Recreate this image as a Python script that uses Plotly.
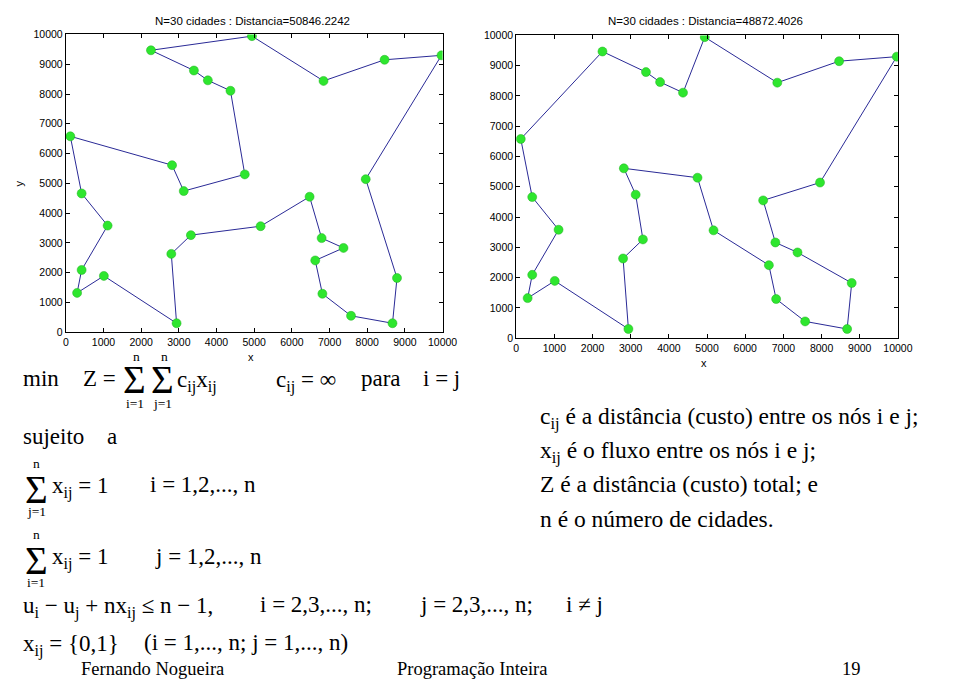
import plotly.graph_objects as go

# ---- data ----
city_x = [4940, 2260, 3400, 3770, 4370, 4750, 3130, 2820, 120, 420,
          1110, 420, 300, 1010, 2940, 2800, 3320, 5170, 6470, 6790,
          7370, 6620, 6810, 7570, 8670, 8790, 7960, 9970, 8460, 6840]
city_y = [9945, 9470, 8790, 8460, 8110, 5300, 4740, 5610, 6580, 4660,
          3580, 2090, 1320, 1890, 300, 2630, 3260, 3560, 4550, 3160,
          2830, 2410, 1290, 550, 300, 1820, 5140, 9300, 9150, 8440]
tour_left = [1, 30, 29, 28, 27, 26, 25, 24, 23, 22, 21, 20, 19, 18, 17, 16,
             15, 14, 13, 12, 11, 10, 9, 8, 7, 6, 5, 4, 3, 2, 1]
tour_right = [1, 30, 29, 28, 27, 19, 20, 21, 26, 25, 24, 23, 22, 18, 6, 8,
              7, 17, 16, 15, 14, 13, 12, 11, 10, 9, 2, 3, 4, 5, 1]
title_left = "N=30 cidades : Distancia=50846.2242"
title_right = "N=30 cidades : Distancia=48872.4026"
tick_vals = [0, 1000, 2000, 3000, 4000, 5000, 6000, 7000, 8000, 9000, 10000]
tick_text = [str(v) for v in tick_vals]

W, H = 960, 684
LINE = "#2a2a96"
GREEN = "#2ee62e"
PF = "Arial, Liberation Sans, sans-serif"
SF = "Times New Roman, Liberation Serif, serif"

fig = go.Figure()
for tour, xa, ya in [(tour_left, "x", "y"), (tour_right, "x2", "y2")]:
    xs = [city_x[i - 1] for i in tour]
    ys = [city_y[i - 1] for i in tour]
    fig.add_trace(go.Scatter(x=xs, y=ys, mode="lines", xaxis=xa, yaxis=ya,
                             line=dict(color=LINE, width=1), hoverinfo="skip"))
    fig.add_trace(go.Scatter(x=city_x, y=city_y, mode="markers", xaxis=xa, yaxis=ya,
                             marker=dict(color=GREEN, size=9,
                                         line=dict(color="#22b022", width=0.5))))

ax = dict(range=[0, 10000], tickvals=tick_vals, ticktext=tick_text, ticks="inside",
          ticklen=4, tickcolor="black", showline=True, linecolor="black", linewidth=1,
          mirror="ticks", showgrid=False, zeroline=False,
          tickfont=dict(family=PF, size=10.5, color="black"))

def px(x0, x1):
    return [x0 / W, x1 / W]

def py(top, bottom):
    return [1 - bottom / H, 1 - top / H]

fig.update_layout(
    width=W, height=H, margin=dict(l=0, r=0, t=0, b=0),
    paper_bgcolor="white", plot_bgcolor="white", showlegend=False,
    xaxis=dict(ax, domain=px(64, 448), anchor="y"),
    yaxis=dict(ax, domain=py(29, 332), anchor="x"),
    xaxis2=dict(ax, domain=px(523, 912), anchor="y2"),
    yaxis2=dict(ax, domain=py(30, 338), anchor="x2"),
)

ann = []

def t(x, y, s, size=23, fam=SF, xanchor="left", angle=0):
    ann.append(dict(x=x / W, y=1 - y / H, xref="paper", yref="paper", text=s,
                    showarrow=False, xanchor=xanchor, yanchor="middle", align="left",
                    borderpad=0, textangle=angle,
                    font=dict(family=fam, size=size, color="black")))

SIG = 39
LIM = 13.5
# plot titles / axis labels
t(254, 15, title_left, 11.5, PF, "center")
t(716, 15, title_right, 11.5, PF, "center")
t(16, 181, "y", 11, PF, "center", -90)
t(253, 357, "x", 11, PF, "center")
t(714, 363, "x", 11, PF, "center")

# line 1
t(19, 379, "min")
t(80, 379, "Z =")
t(134, 380, "Σ", SIG, SF, "center")
t(163, 380, "Σ", SIG, SF, "center")
t(136, 357, "n", LIM, SF, "center")
t(165, 357, "n", LIM, SF, "center")
t(135, 405, "i=1", LIM, SF, "center")
t(163, 405, "j=1", LIM, SF, "center")
t(176, 382, "c<sub>ij</sub>x<sub>ij</sub>")
t(277, 382, "c<sub>ij</sub> = ∞")
t(364, 379, "para")
t(427, 379, "i = j")
# line 2
t(19, 438, "sujeito")
t(105, 438, "a")
# line 3
t(34, 492, "Σ", SIG, SF, "center")
t(34, 466, "n", LIM, SF, "center")
t(34, 515, "j=1", LIM, SF, "center")
t(49, 490, "x<sub>ij</sub> = 1")
t(149, 487, "i = 1,2,..., n")
# line 4
t(34, 564, "Σ", SIG, SF, "center")
t(34, 538, "n", LIM, SF, "center")
t(34, 587, "i=1", LIM, SF, "center")
t(49, 562, "x<sub>ij</sub> = 1")
t(154, 560, "j = 1,2,..., n")
# line 5
t(19, 612, "u<sub>i</sub> − u<sub>j</sub> + nx<sub>ij</sub> ≤ n − 1,")
t(261, 609, "i = 2,3,..., n;")
t(424, 609, "j = 2,3,..., n;")
t(573, 609, "i ≠ j")
# line 6
t(19, 651, "x<sub>ij</sub> = {0,1}")
t(143, 648, "(i = 1,..., n; j = 1,..., n)")
# footer
t(78, 675, "Fernando Nogueira", 18.5)
t(401, 675, "Programação Inteira", 18.5)
t(854, 675, "19", 18.5)
# description
t(546, 419, "c<sub>ij</sub> é a distância (custo) entre os nós i e j;", 23.5)
t(546, 454, "x<sub>ij</sub> é o fluxo entre os nós i e j;", 23.5)
t(546, 487, "Z é a distância (custo) total; e", 23.5)
t(546, 522, "n é o número de cidades.", 23.5)

fig.update_layout(annotations=ann)
fig.write_html("out.html")
